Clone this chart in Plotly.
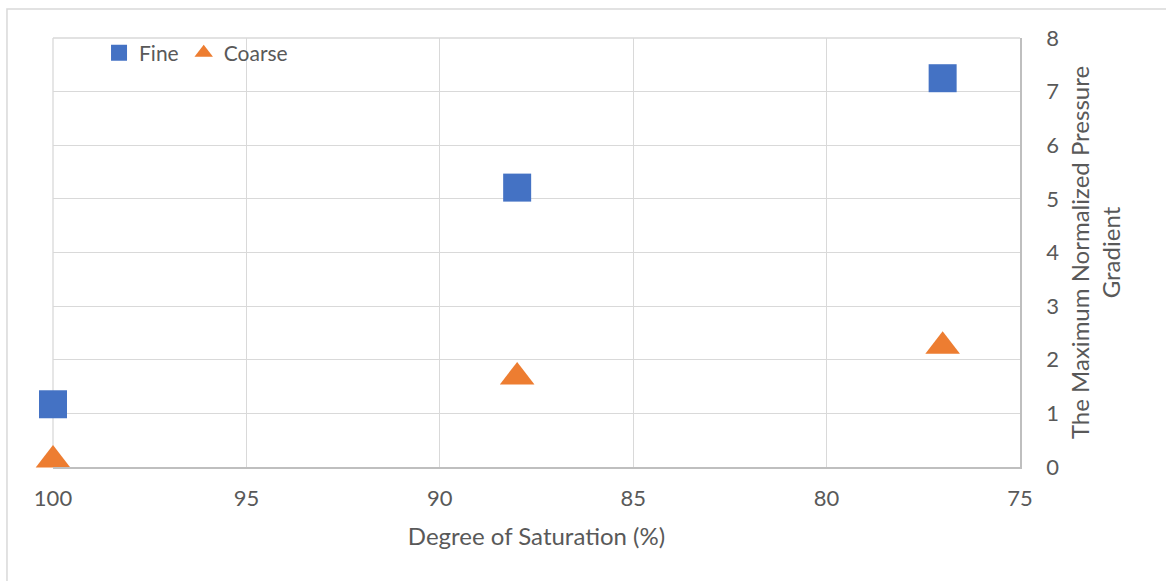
import plotly.graph_objects as go

saturation = [100, 88, 77]
fine = [1.17, 5.21, 7.25]
coarse = [0.13, 1.68, 2.25]

x_ticks = [100, 95, 90, 85, 80, 75]
y_ticks = [0, 1, 2, 3, 4, 5, 6, 7, 8]

FONT = "Lato"
TXT = "#595959"
GRID = "#d9d9d9"
AXIS = "#bfbfbf"

fig = go.Figure()
fig.add_trace(go.Scatter(
    x=saturation, y=fine, mode="markers", name="Fine", cliponaxis=False,
    marker=dict(symbol="square", size=28, color="#4472C4"),
))
fig.add_trace(go.Scatter(
    x=saturation, y=coarse, mode="markers", name="Coarse", cliponaxis=False,
    marker=dict(symbol="triangle-up", size=30, color="#ED7D31"),
))

fig.update_layout(
    width=1166, height=581,
    margin=dict(l=53, r=146, t=38, b=114),
    paper_bgcolor="white", plot_bgcolor="white",
    font=dict(family=FONT, color=TXT, size=22),
    showlegend=True,
    legend=dict(
        orientation="h", x=0.0476, xanchor="left", y=0.965, yanchor="middle",
        font=dict(family=FONT, size=21, color=TXT), bgcolor="rgba(0,0,0,0)",
    ),
    xaxis=dict(
        range=[100, 75], tickvals=x_ticks, ticktext=[str(v) for v in x_ticks],
        showgrid=True, gridcolor=GRID, gridwidth=1.3, zeroline=False,
        showline=True, linecolor=AXIS, linewidth=1.5, ticks="",
        ticklabelstandoff=11,
        tickfont=dict(size=22, color=TXT, family=FONT),
        title=dict(text="Degree of Saturation (%)", font=dict(size=24, color=TXT, family=FONT), standoff=18),
    ),
    yaxis=dict(
        range=[0, 8], tickvals=y_ticks, side="right",
        showgrid=True, gridcolor=GRID, gridwidth=1.3, zeroline=False,
        showline=True, linecolor=AXIS, linewidth=1.5, ticks="",
        ticklabelstandoff=20,
        tickfont=dict(size=22, color=TXT, family=FONT),
        title=dict(text="The Maximum Normalized Pressure<br>Gradient", font=dict(size=24, color=TXT, family=FONT), standoff=14),
    ),
    shapes=[
        dict(type="rect", xref="paper", yref="paper",
             x0=-0.0476, x1=1.25, y0=1.0676, y1=-0.35,
             line=dict(color=GRID, width=1.5), fillcolor="rgba(0,0,0,0)", layer="below"),
        dict(type="line", xref="paper", yref="paper", x0=0, x1=1, y0=1, y1=1,
             line=dict(color=GRID, width=1.3), layer="below"),
        dict(type="line", xref="paper", yref="paper", x0=0, x1=0, y0=0, y1=1,
             line=dict(color=GRID, width=1.3), layer="below"),
    ],
)

fig.write_html("out.html", config={"displayModeBar": False},
               post_script="document.body.style.margin='0';")
